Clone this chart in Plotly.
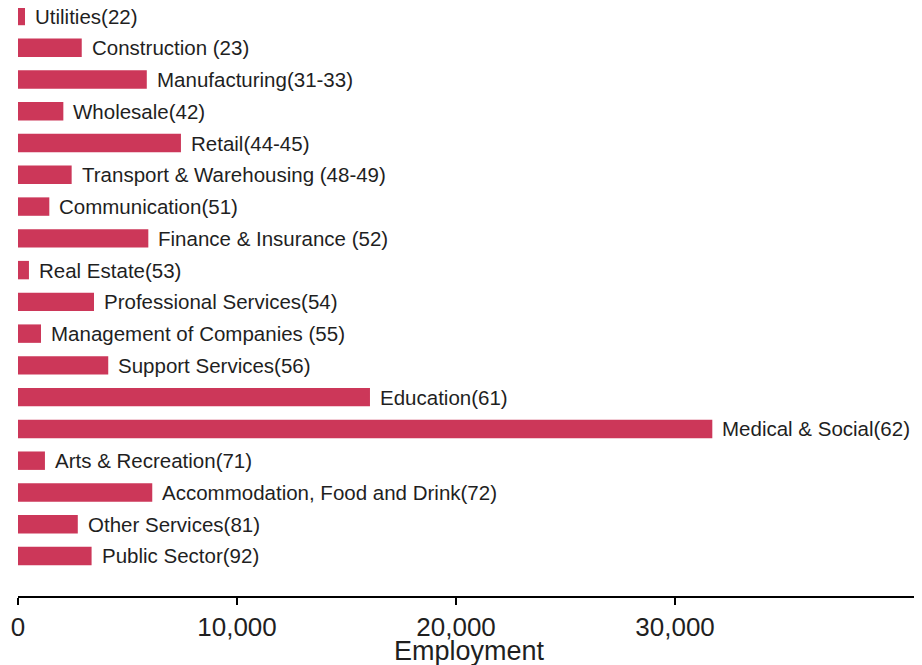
import plotly.graph_objects as go

# industry sectors (NAICS codes) and employment
sectors = ["Utilities(22)", "Construction (23)", "Manufacturing(31-33)", "Wholesale(42)",
           "Retail(44-45)", "Transport & Warehousing (48-49)", "Communication(51)",
           "Finance & Insurance (52)", "Real Estate(53)", "Professional Services(54)",
           "Management of Companies (55)", "Support Services(56)", "Education(61)",
           "Medical & Social(62)", "Arts & Recreation(71)", "Accommodation, Food and Drink(72)",
           "Other Services(81)", "Public Sector(92)"]
employment = [320, 2910, 5880, 2070, 7440, 2450, 1430, 5950, 500, 3470,
              1050, 4120, 16070, 31700, 1230, 6130, 2730, 3360]

tick_vals = [0, 10000, 20000, 30000]
tick_text = ["0", "10,000", "20,000", "30,000"]

bar_color = "#CC3759"
text_color = "#1f1f1f"
font_family = "Liberation Sans, Arial, sans-serif"

fig = go.Figure(go.Bar(
    x=employment, y=sectors, orientation="h",
    marker=dict(color=bar_color, line=dict(width=0)),
    hoverinfo="x+y",
))

for s, v in zip(sectors, employment):
    fig.add_annotation(x=v, y=s, text=s, showarrow=False, xanchor="left",
                       xshift=8, font=dict(size=20.5, color=text_color, family=font_family))

fig.add_annotation(x=0.503, y=0, xref="paper", yref="paper", text="Employment",
                   showarrow=False, yanchor="middle", yshift=-55,
                   font=dict(size=27, color=text_color, family=font_family))

# page body has an 8px margin, so the figure is 8px smaller each way
fig.update_layout(
    width=914, height=657,
    margin=dict(l=10, r=6, t=0, b=69),
    template="simple_white",
    plot_bgcolor="white", paper_bgcolor="white",
    showlegend=False,
    bargap=0.42,
    font=dict(family=font_family, color=text_color),
    xaxis=dict(range=[0, 41000], tickvals=tick_vals, ticktext=tick_text,
               showline=True, linecolor="black", linewidth=1.5,
               ticks="outside", ticklen=7, tickwidth=1.5, tickcolor="black",
               tickfont=dict(size=26, color=text_color), showgrid=False, zeroline=False),
    yaxis=dict(visible=False, categoryorder="array", categoryarray=sectors,
               range=[18.26, -0.252]),
)

fig.write_html("out.html")
